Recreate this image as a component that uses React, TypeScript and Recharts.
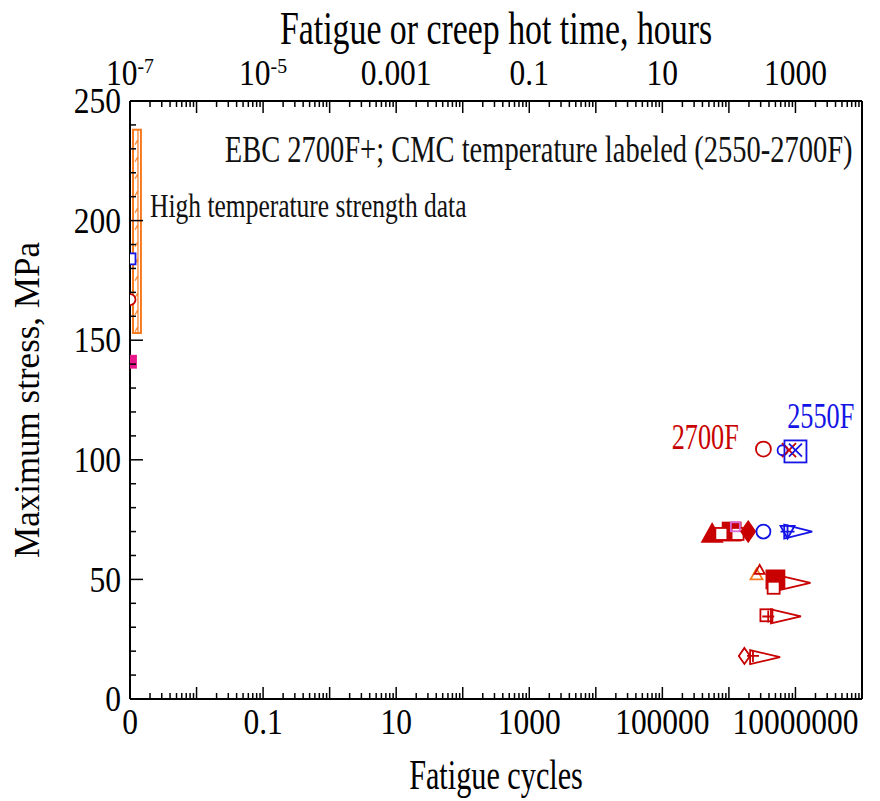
import { ScatterChart, Scatter, XAxis, YAxis, ReferenceArea, ReferenceDot } from "recharts";

const FONT = "'Liberation Serif', 'Times New Roman', serif";
const RED = "#c80000";
const BLUE = "#1414e6";
const MAGENTA = "#e8178a";
const ORANGE = "#f57a1f";

// strength data, drawn at the left edge of the cycles axis
const strengthBlue = [{ cycles: 0.001, stress: 184 }];
const strengthRed = [{ cycles: 0.001, stress: 167 }];
const strengthMagenta = [{ cycles: 0.001, stress: 141 }];
const strengthRange = { cyclesFrom: 0.00111, cyclesTo: 0.00146, stressFrom: 153, stressTo: 238 };

// fatigue / creep points
const redOpenCircles = [{ cycles: 3.3e6, stress: 104.5 }];
const blueSmallCircles = [{ cycles: 6.4e6, stress: 104 }];
const redCrosses = [{ cycles: 8.0e6, stress: 104 }];
const blueBigSquares = [{ cycles: 1.0e7, stress: 103.5 }];
const blueCrosses = [{ cycles: 1.0e7, stress: 104 }];

const redFilledTriangles = [{ cycles: 5.6e5, stress: 69 }];
const redFilledSquares = [
  { cycles: 1.1e6, stress: 70 },
  { cycles: 5.0e6, stress: 50 },
];
const redOpenSquares = [
  { cycles: 7.7e5, stress: 69 },
  { cycles: 1.35e6, stress: 69 },
  { cycles: 4.7e6, stress: 46.5 },
  { cycles: 3.66e6, stress: 35 },
];
const magentaOpenSquares = [{ cycles: 1.25e6, stress: 72 }];
const redFilledDiamonds = [{ cycles: 1.95e6, stress: 70 }];
const blueOpenCircles = [{ cycles: 3.3e6, stress: 70 }];
const blueDownTriangles = [{ cycles: 7.6e6, stress: 70 }];
const bluePluses = [{ cycles: 7.6e6, stress: 70 }];
const blueRunouts = [{ cycles: 1.1e7, stress: 70 }];
const orangeOpenTriangles = [{ cycles: 2.6e6, stress: 52 }];
const redOpenTriangles = [{ cycles: 2.9e6, stress: 54 }];
const redPluses = [
  { cycles: 3.9e6, stress: 34.5 },
  { cycles: 2.3e6, stress: 18 },
];
const redOpenDiamonds = [{ cycles: 1.71e6, stress: 18 }];
const redRunouts = [
  { cycles: 1.0e7, stress: 48.5 },
  { cycles: 7.2e6, stress: 34.5 },
  { cycles: 3.5e6, stress: 17.5 },
];

// axes
const cyclesDomain = [0.001, 1e8];
const hoursDomain = [1e-7, 1e4];
const cyclesLabelValues = [0.001, 0.1, 10, 1000, 100000, 10000000];
const cyclesLabels = ["0", "0.1", "10", "1000", "100000", "10000000"];
const hoursLabelValues = [1e-7, 1e-5, 0.001, 0.1, 10, 1000];
const hoursLabels = ["10^-7", "10^-5", "0.001", "0.1", "10", "1000"];
const stressTicks = [0, 10, 20, 30, 40, 50, 60, 70, 80, 90, 100, 110, 120, 130, 140, 150, 160, 170, 180, 190, 200, 210, 220, 230, 240, 250];
const stressLabels = [0, 50, 100, 150, 200, 250];

const notes = [
  { text: "EBC 2700F+; CMC temperature labeled (2550-2700F)", cycles: 7.2e7, stress: 230, color: "#111", size: 38, anchor: "end" },
  { text: "High temperature strength data", cycles: 0.002, stress: 206.5, color: "#111", size: 34, anchor: "start" },
  { text: "2700F", cycles: 4.4e5, stress: 109.5, color: RED, size: 35, anchor: "middle" },
  { text: "2550F", cycles: 2.4e7, stress: 118.5, color: BLUE, size: 35, anchor: "middle" },
];

function logTicks(from: number, to: number) {
  const out: number[] = [];
  for (let e = from; e < to; e++) {
    for (let m = 1; m < 10; m++) out.push(m * Math.pow(10, e));
  }
  out.push(Math.pow(10, to));
  return out;
}

const isDecade = (v: number) => {
  const lg = Math.log10(v);
  return Math.abs(lg - Math.round(lg)) < 1e-6;
};
const findLabel = (v: number, values: number[], labels: string[]) => {
  const i = values.findIndex((t) => Math.abs(Math.log10(t) - Math.log10(v)) < 1e-6);
  return i >= 0 ? labels[i] : null;
};

// narrow serif text, like the condensed Times of the original figure
function Narrow(props: any) {
  const { x, y, size, anchor = "middle", fill = "#000", dy, rotate, squeeze = 0.75, children } = props;
  const t = rotate ? `translate(${x} ${y}) rotate(${rotate})` : `translate(${x} ${y}) scale(${squeeze} 1)`;
  return (
    <text transform={t} dy={dy} textAnchor={anchor} fontSize={size} fontFamily={FONT} fill={fill}>
      {children}
    </text>
  );
}

function BottomTick(props: any) {
  const { x, y, payload } = props;
  const label = findLabel(payload.value, cyclesLabelValues, cyclesLabels);
  return (
    <g>
      <line x1={x} x2={x} y1={y} y2={y - (isDecade(payload.value) ? 12 : 6)} stroke="#000" strokeWidth={1.5} />
      {label && (
        <Narrow x={x} y={y + 35} size={35} squeeze={0.9}>
          {label}
        </Narrow>
      )}
    </g>
  );
}

function TopTick(props: any) {
  const { x, y, payload } = props;
  const label = findLabel(payload.value, hoursLabelValues, hoursLabels);
  let text = null;
  if (label) {
    const [base, exp] = label.split("^");
    text = (
      <Narrow x={x} y={y - 16} size={35} squeeze={0.9}>
        {base}
        {exp && (
          <tspan dy={-12} fontSize={22}>
            {exp}
          </tspan>
        )}
      </Narrow>
    );
  }
  return (
    <g>
      <line x1={x} x2={x} y1={y} y2={y + (isDecade(payload.value) ? 12 : 6)} stroke="#000" strokeWidth={1.5} />
      {text}
    </g>
  );
}

function LeftTick(props: any) {
  const { x, y, payload } = props;
  const major = payload.value % 50 === 0;
  return (
    <g>
      <line x1={x} x2={x + (major ? 13 : 6)} y1={y} y2={y} stroke="#000" strokeWidth={1.5} />
      {stressLabels.includes(payload.value) && (
        <Narrow x={x - 9} y={y} dy="0.35em" anchor="end" size={35} squeeze={0.9}>
          {payload.value}
        </Narrow>
      )}
    </g>
  );
}

function RightTick(props: any) {
  const { x, y, payload } = props;
  const major = payload.value % 50 === 0;
  return <line x1={x} x2={x - (major ? 15 : 8)} y1={y} y2={y} stroke="#000" strokeWidth={1.5} />;
}

type Kind = "circle" | "square" | "triangle" | "triangleDown" | "diamond" | "runout" | "plus" | "cross" | "none";

function marker(kind: Kind, color: string, fill: string, size: number) {
  return (p: any) => {
    const { cx, cy } = p;
    const h = size / 2;
    const common = { stroke: color, strokeWidth: 1.8, fill };
    switch (kind) {
      case "circle":
        return <circle cx={cx} cy={cy} r={h} {...common} />;
      case "square":
        return <rect x={cx - h} y={cy - h} width={size} height={size} {...common} />;
      case "triangle":
        return <polygon points={`${cx},${cy - h} ${cx + h},${cy + h * 0.8} ${cx - h},${cy + h * 0.8}`} {...common} />;
      case "triangleDown":
        return <polygon points={`${cx - h},${cy - h * 0.8} ${cx + h},${cy - h * 0.8} ${cx},${cy + h}`} {...common} />;
      case "diamond":
        return <polygon points={`${cx},${cy - h} ${cx + h * 0.7},${cy} ${cx},${cy + h} ${cx - h * 0.7},${cy}`} {...common} />;
      case "runout":
        return <polygon points={`${cx - h},${cy - 7} ${cx + h},${cy} ${cx - h},${cy + 7}`} {...common} />;
      case "plus":
        return (
          <path d={`M${cx - h} ${cy}H${cx + h}M${cx} ${cy - h}V${cy + h}`} stroke={color} strokeWidth={1.8} fill="none" />
        );
      case "cross":
        return (
          <path
            d={`M${cx - h} ${cy - h}L${cx + h} ${cy + h}M${cx + h} ${cy - h}L${cx - h} ${cy + h}`}
            stroke={color}
            strokeWidth={1.8}
            fill="none"
          />
        );
      default:
        return <g />;
    }
  };
}

const series = [
  { name: "strength blue", data: strengthBlue, shape: marker("square", BLUE, "#fff", 11) },
  { name: "strength red", data: strengthRed, shape: marker("circle", RED, "#fff", 11) },
  { name: "strength magenta", data: strengthMagenta, shape: marker("square", MAGENTA, MAGENTA, 12) },
  { name: "2700F circle", data: redOpenCircles, shape: marker("circle", RED, "none", 15) },
  { name: "2550F small circle", data: blueSmallCircles, shape: marker("circle", BLUE, "none", 10) },
  { name: "2700F cross", data: redCrosses, shape: marker("cross", RED, "none", 14) },
  { name: "2550F square", data: blueBigSquares, shape: marker("square", BLUE, "none", 22) },
  { name: "2550F cross", data: blueCrosses, shape: marker("cross", BLUE, "none", 13) },
  { name: "2700F filled triangle", data: redFilledTriangles, shape: marker("triangle", RED, RED, 20) },
  { name: "2700F filled square", data: redFilledSquares, shape: marker("square", RED, RED, 18) },
  { name: "2700F open square", data: redOpenSquares, shape: marker("square", RED, "#fff", 12) },
  { name: "magenta open square", data: magentaOpenSquares, shape: marker("square", "#d86ad8", "none", 9) },
  { name: "2700F filled diamond", data: redFilledDiamonds, shape: marker("diamond", RED, RED, 20) },
  { name: "2550F circle", data: blueOpenCircles, shape: marker("circle", BLUE, "#fff", 14) },
  { name: "2550F down triangle", data: blueDownTriangles, shape: marker("triangleDown", BLUE, "none", 14) },
  { name: "2550F plus", data: bluePluses, shape: marker("plus", BLUE, "none", 14) },
  { name: "2550F runout", data: blueRunouts, shape: marker("runout", BLUE, "none", 28) },
  { name: "orange triangle", data: orangeOpenTriangles, shape: marker("triangle", ORANGE, "none", 12) },
  { name: "2700F open triangle", data: redOpenTriangles, shape: marker("triangle", RED, "none", 10) },
  { name: "2700F plus", data: redPluses, shape: marker("plus", RED, "none", 12) },
  { name: "2700F open diamond", data: redOpenDiamonds, shape: marker("diamond", RED, "none", 16) },
  { name: "2700F runout", data: redRunouts, shape: marker("runout", RED, "none", 30) },
];

function HatchedBar(p: any) {
  const { x, y, width, height } = p;
  if (x == null) return null;
  return (
    <g>
      <defs>
        <pattern id="hatch" x={x} y={y} width={width} height={17} patternUnits="userSpaceOnUse">
          <path d={`M${width - 3} 0V17M2 15L${width - 3} 10`} stroke={ORANGE} strokeWidth={1.2} fill="none" />
        </pattern>
      </defs>
      <rect x={x} y={y} width={width} height={height} fill="url(#hatch)" stroke={ORANGE} strokeWidth={2} />
    </g>
  );
}

function AxisTitle(props: any) {
  const { viewBox, value, shiftX = 0, shiftY = 0, turn, size = 42 } = props;
  const cx = viewBox.x + viewBox.width / 2 + shiftX;
  const cy = viewBox.y + viewBox.height / 2 + shiftY;
  return (
    <Narrow x={cx} y={cy} dy="0.35em" size={size} rotate={turn} squeeze={0.72}>
      {value}
    </Narrow>
  );
}

export default function App() {
  return (
    <div style={{ margin: "-8px 0 0 -8px", width: 880, height: 801 }}>
      <ScatterChart width={880} height={801} margin={{ top: 11, right: 16, bottom: 12, left: 30 }}>
        <XAxis
          dataKey="cycles"
          type="number"
          scale="log"
          domain={cyclesDomain}
          allowDataOverflow
          ticks={logTicks(-3, 8)}
          interval={0}
          tick={<BottomTick />}
          tickSize={0}
          tickMargin={0}
          tickLine={false}
          axisLine={{ stroke: "#000", strokeWidth: 2 }}
          height={90}
          label={<AxisTitle value="Fatigue cycles" shiftY={30} />}
        />
        <XAxis
          xAxisId="top"
          dataKey="hours"
          orientation="top"
          type="number"
          scale="log"
          domain={hoursDomain}
          allowDataOverflow
          ticks={logTicks(-7, 4)}
          interval={0}
          tick={<TopTick />}
          tickSize={0}
          tickMargin={0}
          tickLine={false}
          axisLine={{ stroke: "#000", strokeWidth: 2 }}
          height={90}
          label={<AxisTitle value="Fatigue or creep hot time, hours" shiftY={-28} size={47} />}
        />
        <YAxis
          dataKey="stress"
          type="number"
          domain={[0, 250]}
          ticks={stressTicks}
          interval={0}
          tick={<LeftTick />}
          tickSize={0}
          tickMargin={0}
          tickLine={false}
          axisLine={{ stroke: "#000", strokeWidth: 2 }}
          width={100}
          label={<AxisTitle value="Maximum stress, MPa" turn={-90} shiftX={-53} size={35} />}
        />
        <YAxis
          yAxisId="right"
          orientation="right"
          type="number"
          domain={[0, 250]}
          ticks={stressTicks}
          interval={0}
          tick={<RightTick />}
          tickSize={0}
          tickMargin={0}
          tickLine={false}
          axisLine={{ stroke: "#000", strokeWidth: 2 }}
          width={2}
        />
        <ReferenceArea
          x1={strengthRange.cyclesFrom}
          x2={strengthRange.cyclesTo}
          y1={strengthRange.stressFrom}
          y2={strengthRange.stressTo}
          shape={<HatchedBar />}
        />
        {/* invisible series so the hours axis gets its scale */}
        <Scatter
          xAxisId="top"
          name="hours range"
          data={hoursDomain.map((h) => ({ hours: h, stress: 0 }))}
          shape={marker("none", "none", "none", 0)}
          isAnimationActive={false}
        />
        {series.map((s) => (
          <Scatter key={s.name} name={s.name} data={s.data} shape={s.shape} isAnimationActive={false} />
        ))}
        {notes.map((n) => (
          <ReferenceDot
            key={n.text}
            x={n.cycles}
            y={n.stress}
            r={0}
            ifOverflow="visible"
            shape={(p: any) => (
              <Narrow x={p.cx} y={p.cy} dy="0.35em" anchor={n.anchor} size={n.size} fill={n.color}>
                {n.text}
              </Narrow>
            )}
          />
        ))}
      </ScatterChart>
    </div>
  );
}
